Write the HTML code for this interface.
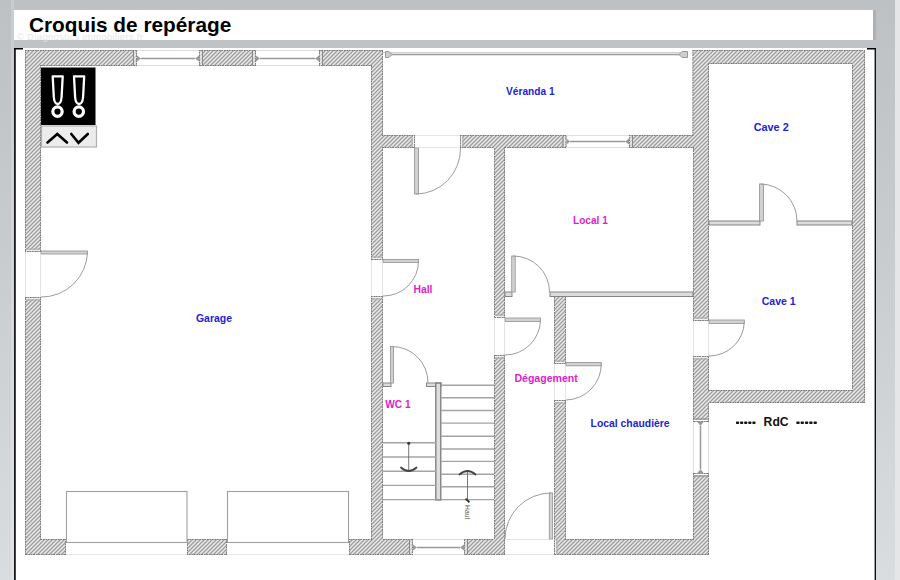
<!DOCTYPE html>
<html><head><meta charset="utf-8">
<style>
html,body{margin:0;padding:0;}
body{width:900px;height:580px;overflow:hidden;position:relative;background:linear-gradient(to bottom,#bec1c4 0%,#c8cbce 40%,#dadde0 100%);font-family:"Liberation Sans",sans-serif;}
#strip{position:absolute;left:895px;top:0;width:5px;height:580px;background:#e4e6e8;}
#title{position:absolute;left:14px;top:10px;width:859px;height:30px;background:#fff;}
#title h1{position:absolute;left:15px;top:3px;margin:0;font-size:20.8px;font-weight:bold;color:#000;line-height:24px;white-space:nowrap;}
#wm{position:absolute;left:3px;top:21px;font-size:9.5px;color:#e6e6e6;letter-spacing:0.3px;white-space:nowrap;}
#frame{position:absolute;left:14px;top:48px;width:862px;height:540px;background:#fff;}
svg{position:absolute;left:0;top:0;}
</style></head><body>
<div id="strip"></div><div style="position:absolute;left:11px;top:0;width:3px;height:580px;background:rgba(255,255,255,0.18)"></div>
<div id="title"><div id="wm">© Diagnostics immobiliers.fr</div><h1>Croquis de repérage</h1></div>
<div id="frame"></div><div style="position:absolute;left:873px;top:10px;width:3px;height:30px;background:#aeb1b4"></div>
<svg width="900" height="580" viewBox="0 0 900 580">
<defs>
<pattern id="h" width="4" height="4" patternUnits="userSpaceOnUse"><rect width="4" height="4" fill="#e8e8e8"/><path d="M-1,1 L1,-1 M0,4 L4,0 M3,5 L5,3" stroke="#9e9e9e" stroke-width="1.25"/></pattern>
<clipPath id="wc"><path d="M25,50 H137 V66 H41 V252 H25 Z"/><path d="M199,50 H256 V66 H199 Z"/><path d="M319,50 H383 V135 H415 V148 H383 V260 H371 V66 H319 Z"/><path d="M371,296 H383 V539 H413 V555 H349 V539 H371 Z"/><path d="M25,297 H41 V539 H66 V555 H25 Z"/><path d="M187,539 H227 V555 H187 Z"/><path d="M464,539 H494 V355 H505 V555 H464 Z"/><path d="M460,135 H566.5 V148 H505 V318 H494 V148 H460 Z"/><path d="M629,135 H692.5 V50 H865 V403 H709 V422 H693 V356 H709 V390 H852 V64 H709 V321 H693 V148 H629 Z"/><path d="M554,400 H566 V539 H693 V473 H709 V555 H554 Z"/><path d="M554,296 H566 V364 H554 Z"/></clipPath>
</defs>
<rect x="14" y="48" width="1.8" height="532" fill="#1a1a1a"/>
<rect x="14" y="48" width="9" height="1.5" fill="#000"/>
<rect x="874.6" y="48" width="1.4" height="532" fill="#111"/>
<rect x="867" y="48" width="9" height="1.5" fill="#000"/>
<g fill="url(#h)"><path d="M25,50 H137 V66 H41 V252 H25 Z"/><path d="M199,50 H256 V66 H199 Z"/><path d="M319,50 H383 V135 H415 V148 H383 V260 H371 V66 H319 Z"/><path d="M371,296 H383 V539 H413 V555 H349 V539 H371 Z"/><path d="M25,297 H41 V539 H66 V555 H25 Z"/><path d="M187,539 H227 V555 H187 Z"/><path d="M464,539 H494 V355 H505 V555 H464 Z"/><path d="M460,135 H566.5 V148 H505 V318 H494 V148 H460 Z"/><path d="M629,135 H692.5 V50 H865 V403 H709 V422 H693 V356 H709 V390 H852 V64 H709 V321 H693 V148 H629 Z"/><path d="M554,400 H566 V539 H693 V473 H709 V555 H554 Z"/><path d="M554,296 H566 V364 H554 Z"/></g>
<g fill="none" stroke="#7c7c7c" stroke-width="2" stroke-dasharray="1.6 0.9" clip-path="url(#wc)"><path d="M25,50 H137 V66 H41 V252 H25 Z"/><path d="M199,50 H256 V66 H199 Z"/><path d="M319,50 H383 V135 H415 V148 H383 V260 H371 V66 H319 Z"/><path d="M371,296 H383 V539 H413 V555 H349 V539 H371 Z"/><path d="M25,297 H41 V539 H66 V555 H25 Z"/><path d="M187,539 H227 V555 H187 Z"/><path d="M464,539 H494 V355 H505 V555 H464 Z"/><path d="M460,135 H566.5 V148 H505 V318 H494 V148 H460 Z"/><path d="M629,135 H692.5 V50 H865 V403 H709 V422 H693 V356 H709 V390 H852 V64 H709 V321 H693 V148 H629 Z"/><path d="M554,400 H566 V539 H693 V473 H709 V555 H554 Z"/><path d="M554,296 H566 V364 H554 Z"/></g>
<g fill="none"><path d="M135,51 V65" stroke="#ececec" stroke-width="1.2"/><path d="M133.5,51 V65" stroke="#888" stroke-width="1"/><path d="M201,51 V65" stroke="#ececec" stroke-width="1.2"/><path d="M202.5,51 V65" stroke="#888" stroke-width="1"/><path d="M254,51 V65" stroke="#ececec" stroke-width="1.2"/><path d="M252.5,51 V65" stroke="#888" stroke-width="1"/><path d="M321,51 V65" stroke="#ececec" stroke-width="1.2"/><path d="M322.5,51 V65" stroke="#888" stroke-width="1"/><path d="M564.5,136 V147" stroke="#ececec" stroke-width="1.2"/><path d="M563.0,136 V147" stroke="#888" stroke-width="1"/><path d="M631,136 V147" stroke="#ececec" stroke-width="1.2"/><path d="M632.5,136 V147" stroke="#888" stroke-width="1"/><path d="M411,540 V554" stroke="#ececec" stroke-width="1.2"/><path d="M409.5,540 V554" stroke="#888" stroke-width="1"/><path d="M466,540 V554" stroke="#ececec" stroke-width="1.2"/><path d="M467.5,540 V554" stroke="#888" stroke-width="1"/><path d="M694,420.5 H708" stroke="#fff" stroke-width="1"/><path d="M694,419 H708" stroke="#888" stroke-width="1"/><path d="M694,474.5 H708" stroke="#fff" stroke-width="1"/><path d="M694,476 H708" stroke="#888" stroke-width="1"/><path d="M26,250.5 H40" stroke="#f0f0f0" stroke-width="1"/><path d="M26,249 H40" stroke="#b0b0b0" stroke-width="1.2"/><path d="M26,298.5 H40" stroke="#f0f0f0" stroke-width="1"/><path d="M26,300 H40" stroke="#b0b0b0" stroke-width="1.2"/><path d="M372,258.5 H382" stroke="#f0f0f0" stroke-width="1"/><path d="M372,257 H382" stroke="#b0b0b0" stroke-width="1.2"/><path d="M372,297.5 H382" stroke="#f0f0f0" stroke-width="1"/><path d="M372,299 H382" stroke="#b0b0b0" stroke-width="1.2"/><path d="M413.5,136 V147" stroke="#f0f0f0" stroke-width="1"/><path d="M412,136 V147" stroke="#b0b0b0" stroke-width="1.2"/><path d="M461.5,136 V147" stroke="#f0f0f0" stroke-width="1"/><path d="M463,136 V147" stroke="#b0b0b0" stroke-width="1.2"/><path d="M495,316.5 H504" stroke="#f0f0f0" stroke-width="1"/><path d="M495,315 H504" stroke="#b0b0b0" stroke-width="1.2"/><path d="M495,356.5 H504" stroke="#f0f0f0" stroke-width="1"/><path d="M495,358 H504" stroke="#b0b0b0" stroke-width="1.2"/><path d="M555,362.5 H565" stroke="#f0f0f0" stroke-width="1"/><path d="M555,361 H565" stroke="#b0b0b0" stroke-width="1.2"/><path d="M555,401.5 H565" stroke="#f0f0f0" stroke-width="1"/><path d="M555,403 H565" stroke="#b0b0b0" stroke-width="1.2"/><path d="M694,319.5 H708" stroke="#f0f0f0" stroke-width="1"/><path d="M694,318 H708" stroke="#b0b0b0" stroke-width="1.2"/><path d="M694,357.5 H708" stroke="#f0f0f0" stroke-width="1"/><path d="M694,359 H708" stroke="#b0b0b0" stroke-width="1.2"/><path d="M555.5,540 V554" stroke="#f0f0f0" stroke-width="1"/><path d="M557,540 V554" stroke="#b0b0b0" stroke-width="1.2"/></g>
<g fill="#dcdcdc" stroke="#858585" stroke-width="1">
<rect x="709" y="221" width="51" height="4"/>
<rect x="797" y="221" width="55" height="4"/>
<rect x="505" y="292" width="7" height="4.5"/>
<rect x="550" y="292" width="143" height="4.5"/>
<rect x="383" y="383" width="8" height="3.5"/>
<rect x="426.5" y="383" width="14.5" height="3.5"/>
<rect x="435.8" y="383" width="5" height="117" stroke="#7a7a7a" stroke-width="1.3" fill="#dedede"/>
</g>
<g stroke="#dedede" stroke-width="1" fill="none">
<path d="M137,50.5 H199 M137,65.5 H199"/>
<path d="M256,50.5 H319 M256,65.5 H319"/>
<path d="M566.5,135.5 H629 M566.5,147.5 H629"/>
<path d="M693.5,422 V473 M708.5,422 V473"/>
<path d="M413,539.5 H464 M413,554.5 H464"/>
</g>
<g stroke="#999" stroke-width="1.5" fill="none">
<path d="M141,58.5 H195"/>
<path d="M260,58.5 H315"/>
<path d="M570,141.5 H625"/>
<path d="M700.5,426 V469"/>
<path d="M417,547.5 H460"/>
<path d="M391,54.5 H680"/>
</g>
<path d="M383,52.5 H686" stroke="#cfcfcf" stroke-width="1" fill="none"/>
<g fill="#cdcdcd" stroke="#999" stroke-width="1"><path d="M385.5,51.5 H389 L392,54.5 L389,57.5 H385.5 Z"/><path d="M687.5,51.5 H682 L679,54.5 L682,57.5 H687.5 Z"/></g>
<g fill="#9a9a9a">
<path d="M137,55.5 L141,58.5 L137,61.5 Z"/>
<path d="M199,55.5 L195,58.5 L199,61.5 Z"/>
<path d="M256,55.5 L260,58.5 L256,61.5 Z"/>
<path d="M319,55.5 L315,58.5 L319,61.5 Z"/>
<path d="M566.5,138.5 L570,141.5 L566.5,144.5 Z"/>
<path d="M629,138.5 L625,141.5 L629,144.5 Z"/>
<path d="M697.5,422 L700.5,426 L703.5,422 Z"/>
<path d="M697.5,473 L700.5,469 L703.5,473 Z"/>
<path d="M413,544.5 L417,547.5 L413,550.5 Z"/>
<path d="M464,544.5 L460,547.5 L464,550.5 Z"/>
</g>
<g fill="#d2d2d2" stroke="#9a9a9a" stroke-width="0.9">
<rect x="41" y="251" width="46.5" height="3"/>
<rect x="383" y="259.5" width="35.5" height="3"/>
<rect x="414.5" y="148" width="4" height="46"/>
<rect x="511.7" y="256" width="3.5" height="36"/>
<rect x="505" y="318" width="35.5" height="3.5"/>
<rect x="566" y="362.5" width="35.3" height="3.3"/>
<rect x="709" y="320" width="35.3" height="3.5"/>
<rect x="759.5" y="184" width="4" height="37"/>
<rect x="390.5" y="346.5" width="3" height="36.5"/>
<rect x="549.3" y="493" width="3.3" height="46"/>
</g>
<g fill="none" stroke="#9c9c9c" stroke-width="1">
<path d="M87.5,252 A46,46 0 0 1 41,297"/>
<path d="M418.5,261 A35,35 0 0 1 383,296"/>
<path d="M416,194 A44.5,45.5 0 0 0 460.5,148"/>
<path d="M513,256 A36,36 0 0 1 549.5,292"/>
<path d="M540.5,320 A35.5,35.5 0 0 1 505,355"/>
<path d="M601.3,364 A36,36 0 0 1 566,400"/>
<path d="M744.3,322 A35,35 0 0 1 709,356"/>
<path d="M761,184 A37,37 0 0 1 797,221"/>
<path d="M392,346.5 A36,36 0 0 1 428,383"/>
<path d="M551,493 A46,46 0 0 0 505,539"/>
</g>
<g stroke="#e4e4e4" stroke-width="1" fill="none">
<path d="M25.5,252 V297 M40.5,254 V297"/>
<path d="M371.5,260 V296 M382.5,263 V296"/>
<path d="M415,135.5 H460 M419,147.5 H460"/>
<path d="M494.5,318 V355 M504.5,322 V355"/>
<path d="M554.5,364 V400 M565.5,366 V400"/>
<path d="M693.5,321 V356 M708.5,324 V356"/>
<path d="M505,539.5 H549 M505,554.5 H554"/>
</g>
<g fill="none" stroke="#a0a0a0" stroke-width="1.1">
<rect x="66.5" y="491.5" width="120.5" height="51"/>
<rect x="227.5" y="491.5" width="121" height="51"/>
</g>
<path d="M66,554.5 H187 M227,554.5 H349" stroke="#e6e6e6" stroke-width="1"/>
<g stroke="#a4a4a4" stroke-width="1.4"><path d="M441,385.2 H494 M441,397.8 H494 M441,410.5 H494 M441,423.1 H494 M441,436.3 H494 M441,449 H494 M441,461.4 H494 M441,474.3 H494 M441,486.7 H494 M441,499.6 H494"/><path d="M383,442.7 H436 M383,457 H436 M383,471.2 H436 M383,485.4 H436 M383,499.6 H436"/></g>
<g stroke="#6a6a6a" stroke-width="0.9" fill="none">
<path d="M408.7,443 V470"/>
<path d="M467.5,471 V500"/>
</g>
<g stroke="#444" stroke-width="1.8" fill="none" stroke-linecap="round">
<path d="M401,467.5 Q408.7,474.5 416.5,467.5"/>
<path d="M459.5,474.5 Q467.5,467.5 475.5,474.5"/>
</g>
<circle cx="408.7" cy="443.3" r="1.5" fill="#333"/>
<path d="M465.5,498.8 L469.5,502.3" stroke="#333" stroke-width="1.8"/>
<text x="0" y="0" transform="translate(465.3,505) rotate(90)" font-size="6.8" fill="#5a4a4a" font-family="Liberation Sans">Haut</text>
<rect x="41.5" y="126" width="55" height="21" fill="#ececec" stroke="#b0b0b0" stroke-width="1.2"/>
<rect x="41" y="67.5" width="54.5" height="57.5" fill="#000"/>
<g fill="none" stroke="#fff" stroke-width="2.3" stroke-linejoin="round">
<path d="M52.7,76.3 H62.7 L61.6,97 Q61,104 57.7,104 Q54.4,104 53.8,97 Z"/>
<path d="M74,76.3 H84.2 L83.1,97 Q82.5,104 79.1,104 Q75.7,104 75.1,97 Z"/>
<circle cx="57.5" cy="111.6" r="4.7" stroke-width="3.2"/>
<circle cx="78.8" cy="111.6" r="4.7" stroke-width="3.2"/>
</g>
<path d="M47.5,142.5 L57.3,134 L67,142.5 M71.3,134 L78.5,142.8 L87.8,134" stroke="#000" stroke-width="2.6" fill="none" stroke-linecap="round"/>
<g fill="#161616"><rect x="736.00" y="421.6" width="3.1" height="2.3" rx="0.6"/><rect x="796.40" y="421.6" width="3.2" height="2.3" rx="0.6"/><rect x="740.10" y="421.6" width="3.1" height="2.3" rx="0.6"/><rect x="800.70" y="421.6" width="3.2" height="2.3" rx="0.6"/><rect x="744.20" y="421.6" width="3.1" height="2.3" rx="0.6"/><rect x="805.00" y="421.6" width="3.2" height="2.3" rx="0.6"/><rect x="748.30" y="421.6" width="3.1" height="2.3" rx="0.6"/><rect x="809.30" y="421.6" width="3.2" height="2.3" rx="0.6"/><rect x="752.40" y="421.6" width="3.1" height="2.3" rx="0.6"/><rect x="813.60" y="421.6" width="3.2" height="2.3" rx="0.6"/></g>
<g font-family="Liberation Sans" font-weight="bold" font-size="10.5">
<text x="196" y="321.8" fill="#2323d6" textLength="36" lengthAdjust="spacingAndGlyphs">Garage</text>
<text x="506" y="94.7" fill="#2323d6" textLength="48.6" lengthAdjust="spacingAndGlyphs">Véranda 1</text>
<text x="753.7" y="130.7" fill="#2323d6" textLength="35" lengthAdjust="spacingAndGlyphs">Cave 2</text>
<text x="573" y="224" fill="#dd22cc" textLength="34.8" lengthAdjust="spacingAndGlyphs">Local 1</text>
<text x="761.7" y="304.7" fill="#2323d6" textLength="34" lengthAdjust="spacingAndGlyphs">Cave 1</text>
<text x="413.5" y="293.4" fill="#dd22cc" textLength="19" lengthAdjust="spacingAndGlyphs">Hall</text>
<text x="385.3" y="407.6" fill="#dd22cc" textLength="25.2" lengthAdjust="spacingAndGlyphs">WC 1</text>
<text x="514.4" y="381.5" fill="#dd22cc" textLength="63.4" lengthAdjust="spacingAndGlyphs">Dégagement</text>
<text x="590.6" y="427.2" fill="#2323d6" textLength="79" lengthAdjust="spacingAndGlyphs">Local chaudière</text>
<text x="763.6" y="425.7" fill="#111" font-size="12.6" textLength="25" lengthAdjust="spacingAndGlyphs">RdC</text>
</g>
</svg>
</body></html>
